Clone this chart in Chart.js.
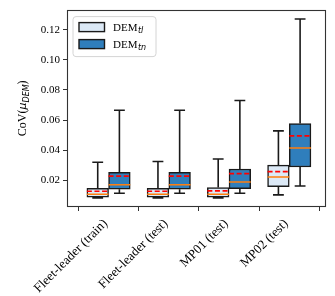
<!DOCTYPE html>
<html><head><meta charset="utf-8">
<script src="https://cdn.jsdelivr.net/npm/chart.js@4.4.1/dist/chart.umd.min.js"></script>
<style>html,body{margin:0;padding:0;background:#fff}#wrap{width:335px;height:296px;position:relative}</style>
</head><body><div id="wrap"><canvas id="c"></canvas></div>
<script>
const categories = ['Fleet-leader (train)', 'Fleet-leader (test)', 'MP01 (test)', 'MP02 (test)'];
const seriesNames = ['DEM_tl', 'DEM_tn'];
const yAxisTitle = ['CoV(', 'μ', 'DEM', ')'];
const yTicks = [0.02, 0.04, 0.06, 0.08, 0.10, 0.12];

// DEM_tl box statistics
const tlLow    = [0.0082, 0.0082, 0.0082, 0.0102];
const tlQ1     = [0.0087, 0.0087, 0.0087, 0.0156];
const tlMedian = [0.0106, 0.0106, 0.0106, 0.0220];
const tlMean   = [0.0126, 0.0126, 0.0128, 0.0256];
const tlQ3     = [0.0145, 0.0145, 0.0150, 0.0300];
const tlHigh   = [0.0319, 0.0324, 0.0341, 0.0528];

// DEM_tn box statistics
const tnLow    = [0.0113, 0.0113, 0.0113, 0.0161];
const tnQ1     = [0.0139, 0.0139, 0.0143, 0.0287];
const tnMedian = [0.0169, 0.0169, 0.0187, 0.0413];
const tnMean   = [0.0227, 0.0227, 0.0243, 0.0494];
const tnQ3     = [0.0252, 0.0252, 0.0274, 0.0576];
const tnHigh   = [0.0665, 0.0665, 0.0730, 0.1272];

const OFF = 0.18, HALF = 0.18, CAP = 0.09;
const fills = ['#dce9f6', '#2f7ebc'];
const EDGE = '#1a1a1a';
const SERIF = "'Liberation Serif', 'Times New Roman', serif";
const MATH = "'DejaVu Sans', sans-serif";

const groups = [
  {low: tlLow, q1: tlQ1, med: tlMedian, mean: tlMean, q3: tlQ3, high: tlHigh, dx: -OFF},
  {low: tnLow, q1: tnQ1, med: tnMedian, mean: tnMean, q3: tnQ3, high: tnHigh, dx: OFF}
];

function gap(x) { return {x: x, y: null}; }
function boxData(g) { return categories.map((c, i) => ({x: i + 1 + g.dx, y: [g.q1[i], g.q3[i]]})); }
function whiskerData(g) {
  const out = [];
  categories.forEach((c, i) => {
    const p = i + 1 + g.dx;
    out.push({x: p, y: g.q3[i]}, {x: p, y: g.high[i]}, gap(p));
    out.push({x: p - CAP, y: g.high[i]}, {x: p + CAP, y: g.high[i]}, gap(p));
    out.push({x: p, y: g.q1[i]}, {x: p, y: g.low[i]}, gap(p));
    out.push({x: p - CAP, y: g.low[i]}, {x: p + CAP, y: g.low[i]}, gap(p));
  });
  return out;
}
function hLineData(g, arr) {
  const out = [];
  categories.forEach((c, i) => {
    const p = i + 1 + g.dx;
    out.push({x: p - HALF, y: arr[i]}, {x: p + HALF, y: arr[i]}, gap(p));
  });
  return out;
}

const lineBase = {type: 'line', pointRadius: 0, pointHoverRadius: 0, tension: 0, fill: false, spanGaps: false};
const datasets = [];
groups.forEach((g, k) => {
  datasets.push({type: 'bar', label: seriesNames[k], data: boxData(g), backgroundColor: fills[k],
    borderColor: EDGE, borderWidth: 1.5, borderSkipped: false, grouped: false,
    barPercentage: 1, categoryPercentage: 1, order: 4});
});
groups.forEach((g, k) => {
  datasets.push(Object.assign({}, lineBase, {label: seriesNames[k] + ' whiskers', data: whiskerData(g),
    borderColor: EDGE, borderWidth: 1.6, order: 3}));
});
groups.forEach((g, k) => {
  datasets.push(Object.assign({}, lineBase, {label: seriesNames[k] + ' median', data: hLineData(g, g.med),
    borderColor: '#ff7f0e', borderWidth: 1.5, order: 2}));
});
groups.forEach((g, k) => {
  datasets.push(Object.assign({}, lineBase, {label: seriesNames[k] + ' mean', data: hLineData(g, g.mean),
    borderColor: '#ff0000', borderWidth: 1.7, borderDash: [5, 2.6], order: 1}));
});

function measureParts(ctx, parts) {
  let w = 0;
  parts.forEach(p => { ctx.font = p.font; p.w = ctx.measureText(p.t).width; w += p.w; });
  return w;
}

const decor = {
  id: 'decor',
  afterDraw(chart) {
    const ctx = chart.ctx, a = chart.chartArea;
    ctx.save();
    // frame
    ctx.strokeStyle = '#333';
    ctx.lineWidth = 1.1;
    ctx.strokeRect(Math.round(a.left) + 0.5, Math.round(a.top) + 0.5, Math.round(a.right - a.left) - 1, Math.round(a.bottom - a.top) - 1);

    // legend
    const lx = a.left + 6, ly = a.top + 7, lw = 83, lh = 40, r = 3;
    ctx.beginPath();
    ctx.moveTo(lx + r, ly); ctx.lineTo(lx + lw - r, ly); ctx.arcTo(lx + lw, ly, lx + lw, ly + r, r);
    ctx.lineTo(lx + lw, ly + lh - r); ctx.arcTo(lx + lw, ly + lh, lx + lw - r, ly + lh, r);
    ctx.lineTo(lx + r, ly + lh); ctx.arcTo(lx, ly + lh, lx, ly + lh - r, r);
    ctx.lineTo(lx, ly + r); ctx.arcTo(lx, ly, lx + r, ly, r); ctx.closePath();
    ctx.fillStyle = 'rgba(255,255,255,0.85)'; ctx.fill();
    ctx.strokeStyle = '#d4d4d4'; ctx.lineWidth = 1; ctx.stroke();
    seriesNames.forEach((name, k) => {
      const cy = ly + 10.5 + k * 17;
      ctx.fillStyle = fills[k];
      ctx.fillRect(lx + 6, cy - 4.5, 25.5, 9);
      ctx.strokeStyle = EDGE; ctx.lineWidth = 1.4;
      ctx.strokeRect(lx + 6, cy - 4.5, 25.5, 9);
      const [main, sub] = name.split('_');
      ctx.fillStyle = '#000';
      ctx.textBaseline = 'alphabetic'; ctx.textAlign = 'left';
      ctx.font = '11px ' + SERIF;
      ctx.fillText(main, lx + 40, cy + 4);
      const mw = ctx.measureText(main).width;
      ctx.font = 'italic 8px ' + MATH;
      ctx.fillText(sub, lx + 40 + mw + 0.5, cy + 6);
    });

    // y axis title
    const parts = [
      {t: yAxisTitle[0], font: '12px ' + SERIF, dy: 0},
      {t: yAxisTitle[1], font: 'italic 11px ' + MATH, dy: 0},
      {t: yAxisTitle[2], font: 'italic 8px ' + MATH, dy: 2.5},
      {t: yAxisTitle[3], font: '12px ' + SERIF, dy: 0}
    ];
    const tw = measureParts(ctx, parts);
    ctx.translate(26, (a.top + a.bottom) / 2);
    ctx.rotate(-Math.PI / 2);
    let x = -tw / 2;
    ctx.fillStyle = '#000'; ctx.textAlign = 'left'; ctx.textBaseline = 'alphabetic';
    parts.forEach(p => { ctx.font = p.font; ctx.fillText(p.t, x, p.dy); x += p.w; });
    ctx.restore();
  }
};

new Chart(document.getElementById('c'), {
  type: 'bar',
  data: {datasets: datasets},
  options: {
    responsive: true, maintainAspectRatio: false, animation: false,
    layout: {padding: {top: 5, right: 9, left: 0, bottom: 0}},
    plugins: {legend: {display: false}, tooltip: {enabled: false}},
    scales: {
      x: {
        type: 'linear', min: 0.31, max: 4.61, offset: false,
        afterBuildTicks: s => { s.ticks = categories.map((c, i) => ({value: i + 1})); },
        afterFit: s => { s.height = 89; },
        grid: {drawOnChartArea: false, drawTicks: true, tickLength: 4, color: '#333'},
        border: {display: false},
        ticks: {autoSkip: false, minRotation: 45, maxRotation: 45, padding: 5, labelOffset: -3, color: '#000',
          font: {family: SERIF, size: 13},
          callback: v => categories[Math.round(v) - 1]}
      },
      y: {
        type: 'linear', min: 0.0021, max: 0.1335,
        afterBuildTicks: s => { s.ticks = yTicks.map(v => ({value: v})); },
        afterFit: s => { s.width = 67; },
        grid: {drawOnChartArea: false, drawTicks: true, tickLength: 4, color: '#333'},
        border: {display: false},
        ticks: {padding: 3, color: '#000', font: {family: SERIF, size: 11},
          callback: v => v.toFixed(2)}
      }
    }
  },
  plugins: [decor]
});
</script></body></html>
